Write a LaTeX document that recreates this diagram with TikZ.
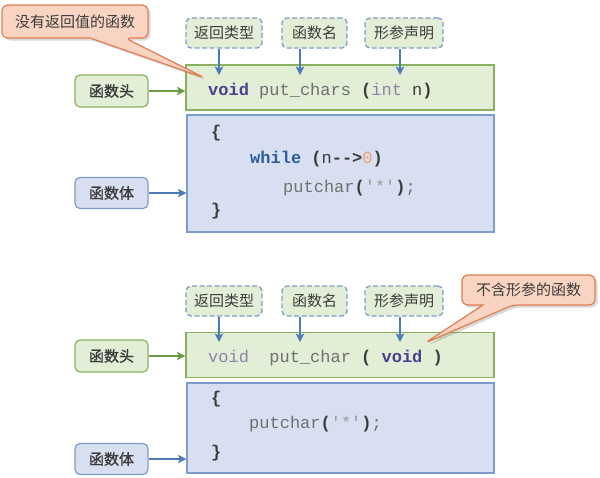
\documentclass[tikz,border=0pt]{standalone}
\usepackage{fontspec}
\setmonofont{Liberation Mono}
\newfontfamily\cjk{Noto Sans CJK SC}[AutoFakeBold=1.2]
\usetikzlibrary{arrows.meta,shadows}
\definecolor{gfill}{HTML}{E2EED5}
\definecolor{gline}{HTML}{8AB160}
\definecolor{garrow}{HTML}{6E9B46}
\definecolor{bfill}{HTML}{D7DFF0}
\definecolor{bline}{HTML}{7C9DCB}
\definecolor{barrow}{HTML}{4F7AB8}
\definecolor{cfill}{HTML}{F9D4C2}
\definecolor{cline}{HTML}{E27D52}
\definecolor{txt}{HTML}{3C3C3C}
\definecolor{kwpurple}{HTML}{4B3F8F}
\definecolor{typegray}{HTML}{8E82AE}
\definecolor{idgray}{HTML}{707070}
\definecolor{kwblue}{HTML}{2F5C9E}
\definecolor{numorange}{HTML}{F0A070}
\definecolor{strgray}{HTML}{9A9A9A}
\newcommand{\kb}[1]{{\bfseries\color{txt}#1}}
\begin{document}
\begin{tikzpicture}[x=1pt,y=-1pt,
  headbox/.style={draw=gline,fill=gfill,line width=1.2pt,minimum width=308pt,minimum height=45pt,inner sep=0pt},
  bodybox/.style={draw=bline,fill=bfill,line width=1.2pt,inner sep=0pt,minimum width=307pt},
  dashbox/.style={draw=bline,fill=gfill,line width=1.3pt,dash pattern=on 5pt off 2.5pt,rounded corners=5pt,minimum height=30pt,inner sep=0pt,text=txt,font=\cjk\fontsize{15}{18}\selectfont},
  glabel/.style={draw=gline,fill=gfill,line width=1.2pt,rounded corners=5pt,minimum width=73pt,minimum height=32pt,inner sep=0pt,text=txt,font=\cjk\bfseries\fontsize{15}{18}\selectfont},
  blabel/.style={draw=bline,fill=bfill,line width=1.2pt,rounded corners=5pt,minimum width=73pt,minimum height=31pt,inner sep=0pt,text=txt,font=\cjk\bfseries\fontsize{15}{18}\selectfont},
  code/.style={anchor=base west,inner sep=0pt,text=idgray,font=\ttfamily\fontsize{17}{20}\selectfont},
  barr/.style={draw=barrow,line width=1.2pt,-{Stealth[length=8.5pt,width=8.5pt,inset=2pt]}},
  garr/.style={draw=garrow,line width=1.2pt,-{Stealth[length=8.5pt,width=8.5pt,inset=2pt]}},
  callshape/.style={draw=cline,fill=cfill,line width=1.2pt,rounded corners=6pt,drop shadow={opacity=0.3,shadow xshift=2.5pt,shadow yshift=-2.5pt}},
  calltext/.style={text=txt,font=\cjk\fontsize{15}{18}\selectfont,inner sep=0pt}
]
\useasboundingbox (0,0) rectangle (600,477);

% ---------- top ----------
\node[headbox] (gh1) at (340,87.5) {};
\node[bodybox,minimum height=117pt] (gb1) at (340.5,173.5) {};
\node[dashbox,minimum width=76pt] (d1) at (224,33) {返回类型};
\node[dashbox,minimum width=65pt] (d2) at (314.5,33) {函数名};
\node[dashbox,minimum width=78pt] (d3) at (404,33) {形参声明};
\node[glabel] (h1) at (111.5,91) {函数头};
\node[blabel] (b1) at (111.5,193) {函数体};

\coordinate (t1) at (219,75);
\coordinate (t2) at (300,75);
\coordinate (t3) at (400,75);
\draw[barr] (d1.south -| t1) -- (t1);
\draw[barr] (d2.south -| t2) -- (t2);
\draw[barr] (d3.south -| t3) -- (t3);
\draw[garr] (h1.east) -- (h1.east -| gh1.west);
\draw[barr] (b1.east) -- (b1.east -| gb1.west);

\node[code] (c1) at (208,95) {{\bfseries\color{kwpurple}void} put\_chars \kb{(}{\color{typegray}int} {\color{txt}n}\kb{)}};
\node[code] (c2) at (211,137) {\kb{\{}};
\node[code] (c3) at (250,163) {{\bfseries\color{kwblue}while} \kb{(}{\color{txt}n}\kb{-{}->}{\color{numorange}0}\kb{)}};
\node[code] (c4) at (283,192) {putchar\kb{(}{\color{strgray}'*'}\kb{)};};
\node[code] (c5) at (211,215) {\kb{\}}};

% ---------- bottom ----------
\node[headbox] (gh2) at (340,355) {};
\node[bodybox,minimum height=90pt] (gb2) at (340.5,428) {};
\node[dashbox,minimum width=76pt] (d4) at (224,301) {返回类型};
\node[dashbox,minimum width=65pt] (d5) at (314.5,301) {函数名};
\node[dashbox,minimum width=78pt] (d6) at (404,301) {形参声明};
\node[glabel] (h2) at (111.5,356) {函数头};
\node[blabel] (b2) at (111.5,459) {函数体};

\coordinate (t4) at (219,342);
\coordinate (t5) at (300,342);
\coordinate (t6) at (400,342);
\draw[barr] (d4.south -| t4) -- (t4);
\draw[barr] (d5.south -| t5) -- (t5);
\draw[barr] (d6.south -| t6) -- (t6);
\draw[garr] (h2.east) -- (h2.east -| gh2.west);
\draw[barr] (b2.east) -- (b2.east -| gb2.west);

\node[code] (c6) at (208,362) {{\color{typegray}void}\ \ put\_char \kb{(} {\bfseries\color{kwpurple}void} \kb{)}};
\node[code] (c7) at (211,403) {\kb{\{}};
\node[code] (c8) at (249,428) {putchar\kb{(}{\color{strgray}'*'}\kb{)};};
\node[code] (c9) at (211,457) {\kb{\}}};

% ---------- callouts ----------
\coordinate (p1) at (205,78);
\coordinate (p2) at (425,343);
\path[callshape] (2,5) -- (148,5) -- (148,38) -- (125,38) -- (p1) [sharp corners] -- (90,38) [rounded corners=6pt] -- (2,38) -- cycle;
\node[calltext] (k1) at (75,21.5) {没有返回值的函数};
\path[callshape] (462,275) -- (595,275) -- (595,305) -- (513,305) -- (p2) [sharp corners] -- (483,305) [rounded corners=6pt] -- (462,305) -- cycle;
\node[calltext] (k2) at (528.5,290) {不含形参的函数};
\end{tikzpicture}
\end{document}
